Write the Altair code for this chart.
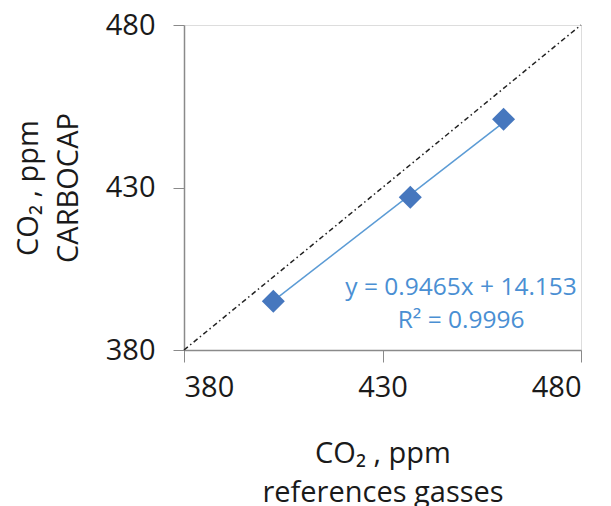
import altair as alt
import pandas as pd

# Reference gas concentrations vs. CARBOCAP readings (ppm)
ref_gas = [402.5, 437, 460.5]
carbocap = [395, 427, 451]

# Linear fit reported on the chart
slope = 0.9465
intercept = 14.153
r_squared = 0.9996

axis_ticks = [380, 430, 480]
identity = [380, 480]

points = pd.DataFrame({"ref": ref_gas, "cap": carbocap})
fit = pd.DataFrame({"ref": [min(ref_gas), max(ref_gas)]})
fit["cap"] = slope * fit["ref"] + intercept
diag = pd.DataFrame({"ref": identity, "cap": identity})
eq = pd.DataFrame({
    "ref": [449.8],
    "cap": [399],
    "text": [f"y = {slope}x + {intercept}\nR² = {r_squared}"],
})

FONT = "Open Sans"
AXIS_GRAY = "#8a8a8a"
TEXT_COLOR = "#1a1a1a"

xscale = alt.Scale(domain=identity, nice=False, zero=False)
yscale = alt.Scale(domain=identity, nice=False, zero=False)

x_axis = alt.Axis(
    values=axis_ticks, grid=False, title=["CO₂ , ppm", "references gasses"],
    labelFontSize=29, labelFont=FONT, labelColor=TEXT_COLOR, labelPadding=11,
    tickSize=12, tickColor=AXIS_GRAY, domainColor=AXIS_GRAY, domainWidth=1.5,
    titleFont=FONT, titleFontSize=29, titleFontWeight="normal", titleColor=TEXT_COLOR,
    titleLineHeight=39, titleX=198.5, titleY=89, titleAlign="center", titleBaseline="top",
)
y_axis = alt.Axis(
    values=axis_ticks, grid=False, title=["CO₂ , ppm", "CARBOCAP"],
    labelFontSize=29, labelFont=FONT, labelColor=TEXT_COLOR, labelPadding=18,
    tickSize=11, tickColor=AXIS_GRAY, domainColor=AXIS_GRAY, domainWidth=1.5,
    titleFont=FONT, titleFontSize=29, titleFontWeight="normal", titleColor=TEXT_COLOR,
    titleLineHeight=40, titleX=-141, titleY=162.5, titleAlign="center",
    titleBaseline="bottom", titleAngle=270,
)

base_x = alt.X("ref:Q", scale=xscale, axis=x_axis)
base_y = alt.Y("cap:Q", scale=yscale, axis=y_axis)

diag_line = alt.Chart(diag).mark_line(
    color="#222222", strokeWidth=1.5, strokeDash=[5, 3, 1.5, 3]
).encode(x=base_x, y=base_y)

fit_line = alt.Chart(fit).mark_line(color="#5b9bd5", strokeWidth=1.5).encode(
    x="ref:Q", y="cap:Q"
)

markers = alt.Chart(points).mark_point(
    shape="diamond", filled=True, size=530, color="#4677be", opacity=1
).encode(x="ref:Q", y="cap:Q")

equation = alt.Chart(eq).mark_text(
    font=FONT, fontSize=24.5, color="#4a8fd3", align="center", baseline="middle",
    lineBreak="\n", lineHeight=33,
).encode(x="ref:Q", y="cap:Q", text="text:N")

chart = alt.layer(diag_line, fit_line, markers, equation).properties(
    width=397, height=325,
    autosize=alt.AutoSizeParams(type="none"),
    padding={"left": 184, "top": 25, "right": 30, "bottom": 156},
).configure_view(stroke="#1a1a1a", strokeWidth=1.5).configure(background="white")

chart.save("out.html", embed_options={"renderer": "svg", "actions": False})
